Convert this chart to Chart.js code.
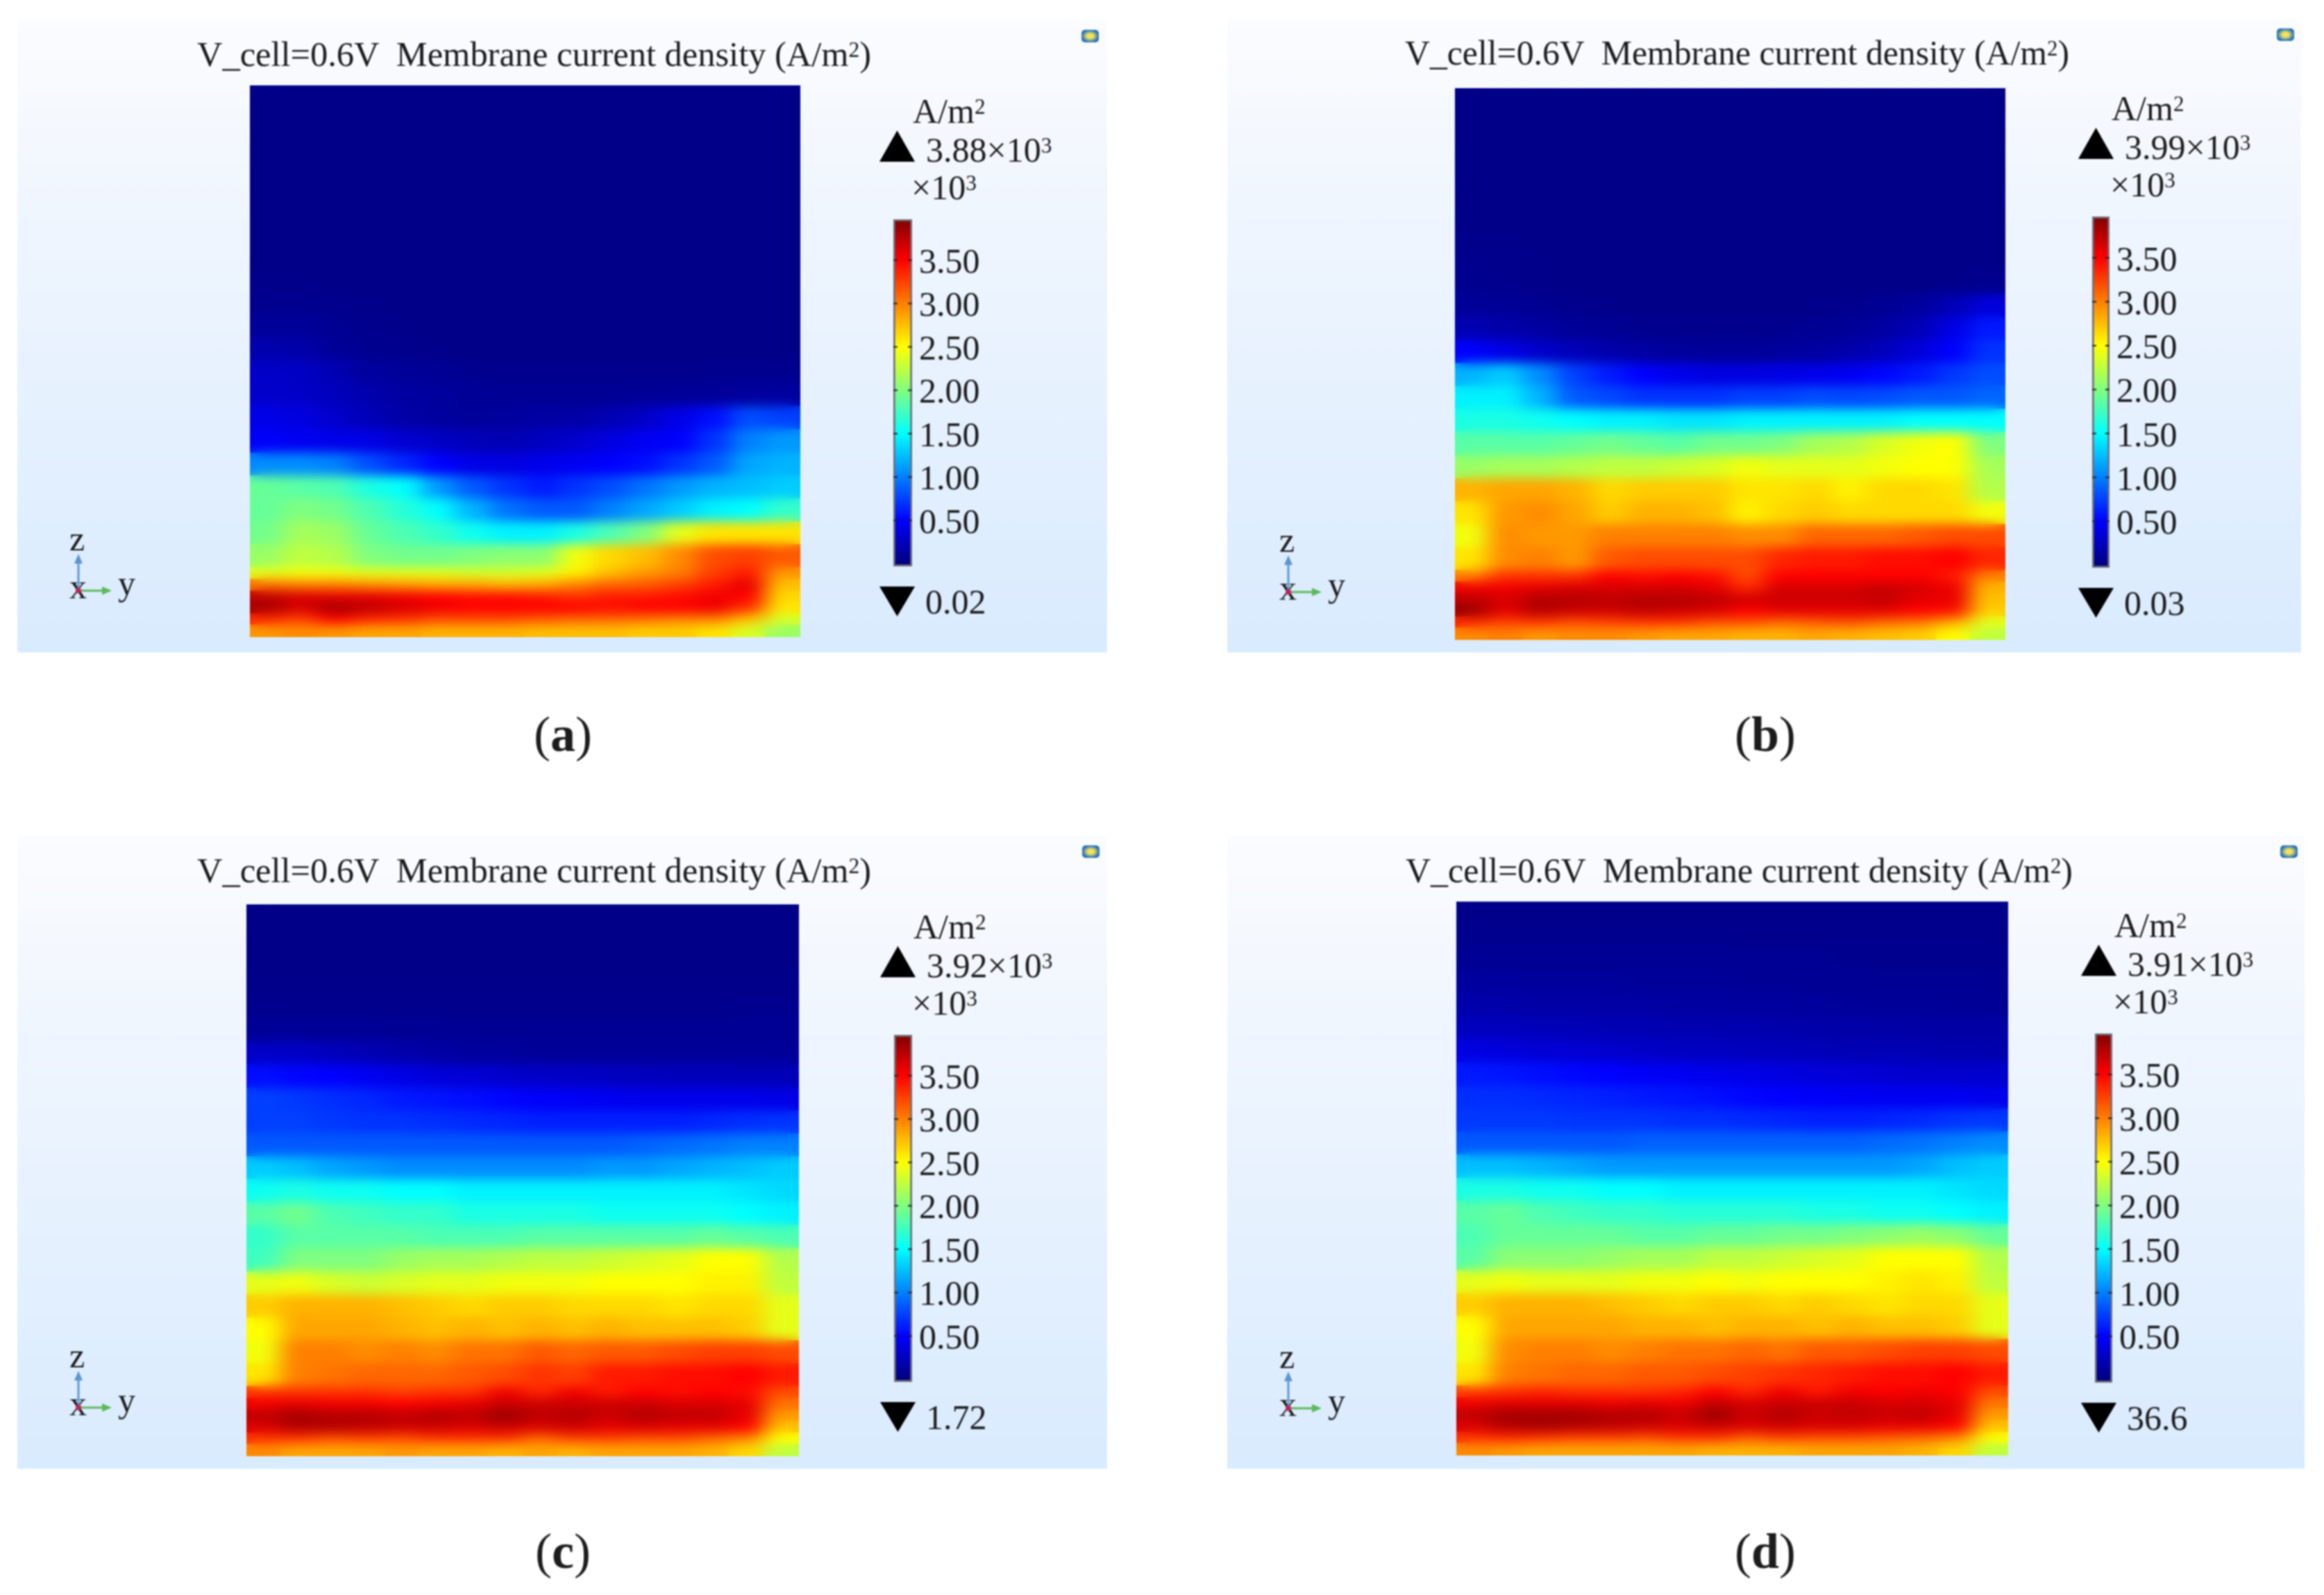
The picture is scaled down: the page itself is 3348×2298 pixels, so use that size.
<!DOCTYPE html>
<html>
<head>
<meta charset="utf-8">
<title>Membrane current density</title>
<script src="https://cdn.jsdelivr.net/npm/chart.js"></script>
<style>
    html, body { margin: 0; padding: 0; background: #fff; }
    #page { position: relative; width: 3348px; height: 2298px; overflow: hidden; background: #fff; }
    .panel { position: absolute; background: linear-gradient(#fbfcff, #f0f6fe 30%, #d9ebfe); }
    .layer { position: absolute; left: 0; top: 0; width: 3348px; height: 2298px; filter: blur(1.1px); }
    .txt { position: absolute; font-family: "Liberation Serif", serif; color: #1c1c1c; white-space: pre; line-height: 0; transform-origin: left center; }
    .txt span { position: relative; top: -0.42em; font-size: 0.62em; }
    canvas { position: absolute; }
    .tri { position: absolute; background: #000; }
    .icon { position: absolute; width: 25px; height: 18px; border-radius: 5px; background: radial-gradient(#f4e25a 25%, #1f6fc0 70%); }
</style>
</head>
<body>
<div id="page"><div class="layer" id="layer"></div></div>
<script>
// Colour scale of the plots, values in 10^3 A/m2
const jetStops = [0, 0.5, 1.5, 2.5, 3.5, 4];
const jetColors = [[0, 0, 128], [0, 0, 255], [0, 255, 255], [255, 255, 0], [255, 0, 0], [128, 0, 0]];

const colorbarTicks = [0.5, 1, 1.5, 2, 2.5, 3, 3.5];
const colorbarMin = -0.03;
const colorbarMax = 3.97;

// Height of each map row in axis units: the last rows are read at double resolution
const rowSpans = [1,1,1,1,1,1,1,1,1,1,1,1,1,1,1,1,1,1,1,1,1,.5,.5,.5,.5,.5,.5];

// Cells, top row first, left column first
const panelA = [
    [.03,.03,.03,.03,.03,.03,.03,.03,.03,.03,.03,.03,.03,.03,.03,.03],
    [.03,.03,.03,.03,.03,.03,.03,.03,.03,.03,.03,.03,.03,.03,.03,.03],
    [.03,.03,.03,.03,.03,.03,.03,.03,.03,.03,.03,.03,.03,.03,.03,.03],
    [.03,.03,.03,.03,.03,.03,.03,.03,.03,.03,.03,.03,.03,.03,.03,.03],
    [.03,.03,.03,.03,.03,.03,.03,.03,.03,.03,.03,.03,.03,.03,.03,.03],
    [.03,.03,.03,.03,.03,.03,.03,.03,.03,.03,.03,.03,.03,.03,.03,.03],
    [.03,.03,.03,.03,.03,.03,.03,.03,.03,.03,.03,.03,.03,.03,.03,.03],
    [.03,.03,.03,.03,.03,.03,.03,.03,.03,.03,.03,.03,.03,.03,.03,.03],
    [.04,.04,.03,.03,.03,.03,.03,.03,.03,.03,.03,.03,.03,.03,.03,.03],
    [.06,.06,.05,.04,.03,.03,.03,.03,.03,.03,.03,.03,.03,.03,.03,.03],
    [.10,.10,.07,.05,.04,.03,.03,.03,.03,.03,.03,.03,.03,.03,.03,.03],
    [.18,.16,.10,.06,.05,.04,.03,.03,.03,.03,.03,.03,.03,.03,.03,.03],
    [.28,.27,.20,.12,.10,.08,.06,.05,.05,.05,.05,.05,.05,.06,.06,.06],
    [.30,.28,.24,.18,.13,.11,.09,.08,.08,.08,.08,.09,.10,.10,.12,.12],
    [.40,.38,.30,.22,.15,.12,.10,.12,.14,.15,.20,.28,.40,.55,.80,.75],
    [.48,.45,.42,.40,.32,.27,.22,.20,.25,.30,.38,.45,.50,.70,1.0,1.1],
    [1.05,1.05,1.0,.80,.65,.50,.40,.38,.42,.45,.50,.55,.70,.85,1.15,1.2],
    [1.9,1.85,1.8,1.6,1.5,1.1,.85,.70,.60,.70,.80,.95,1.1,1.2,1.25,1.3],
    [1.9,2.0,1.95,1.8,1.65,1.5,1.2,.95,.85,.85,1.0,1.15,1.3,1.45,1.5,1.7],
    [1.95,2.15,2.1,1.9,1.8,1.7,1.55,1.45,1.45,1.6,1.8,2.0,2.4,2.6,2.6,2.6],
    [2.1,2.25,2.2,2.0,1.95,1.95,2.0,2.05,2.05,2.45,2.65,2.75,2.95,3.2,3.25,3.15],
    [2.4,2.45,2.45,2.4,2.4,2.4,2.35,2.35,2.4,2.55,2.75,2.9,3.0,3.25,3.4,2.9],
    [3.05,3.0,3.0,2.95,2.9,2.85,2.85,2.8,2.85,3.0,3.1,3.15,3.25,3.4,3.6,2.75],
    [3.75,3.65,3.6,3.6,3.55,3.5,3.45,3.45,3.4,3.3,3.4,3.4,3.45,3.55,3.5,2.65],
    [3.85,3.65,3.85,3.75,3.65,3.55,3.5,3.5,3.5,3.5,3.45,3.5,3.5,3.55,3.3,2.6],
    [3.35,3.25,3.5,3.35,3.3,3.2,3.2,3.2,3.15,3.1,3.1,3.05,3.0,3.0,2.75,2.35],
    [2.9,2.95,2.9,2.85,2.85,2.8,2.8,2.8,2.75,2.75,2.75,2.7,2.7,2.6,2.35,2.1]
];
const panelB = [
    [.03,.03,.03,.03,.03,.03,.03,.03,.03,.03,.03,.03,.03,.03,.03,.03],
    [.03,.03,.03,.03,.03,.03,.03,.03,.03,.03,.03,.03,.03,.03,.03,.03],
    [.03,.03,.03,.03,.03,.03,.03,.03,.03,.03,.03,.03,.03,.03,.03,.03],
    [.03,.03,.03,.03,.03,.03,.03,.03,.03,.03,.03,.03,.03,.03,.03,.03],
    [.03,.03,.03,.03,.03,.03,.03,.03,.03,.03,.03,.03,.03,.03,.03,.03],
    [.03,.03,.03,.03,.03,.03,.03,.03,.03,.03,.03,.03,.03,.03,.03,.03],
    [.04,.04,.03,.03,.03,.03,.03,.03,.03,.03,.03,.03,.03,.03,.03,.03],
    [.05,.05,.04,.03,.03,.03,.03,.03,.03,.03,.03,.03,.03,.03,.03,.03],
    [.06,.05,.04,.03,.03,.03,.03,.03,.03,.03,.03,.03,.03,.03,.04,.06],
    [.10,.09,.07,.05,.04,.03,.03,.03,.03,.03,.04,.05,.08,.12,.22,.35],
    [.20,.17,.13,.10,.08,.06,.05,.05,.05,.06,.07,.09,.14,.22,.40,.60],
    [.50,.40,.30,.22,.17,.13,.11,.10,.10,.11,.13,.17,.24,.36,.50,.70],
    [1.2,1.3,1.05,.75,.60,.50,.42,.38,.38,.40,.42,.45,.52,.60,.72,.80],
    [1.45,1.45,1.2,.85,.78,.70,.70,.70,.75,.75,.80,.78,.80,.85,.85,.90],
    [1.6,1.6,1.55,1.5,1.45,1.45,1.4,1.4,1.45,1.45,1.45,1.45,1.45,1.5,1.5,1.5],
    [1.85,1.85,1.85,1.9,1.95,1.9,1.85,1.95,1.95,2.0,2.15,2.2,2.35,2.45,2.5,2.0],
    [2.1,2.15,2.15,2.2,2.25,2.25,2.3,2.35,2.45,2.4,2.4,2.4,2.45,2.5,2.5,2.15],
    [2.8,2.85,2.85,2.8,2.65,2.7,2.7,2.7,2.6,2.6,2.65,2.55,2.65,2.65,2.6,2.2],
    [2.6,2.9,2.95,2.85,2.7,2.8,2.8,2.75,2.55,2.65,2.7,2.65,2.65,2.65,2.65,2.45],
    [2.45,2.95,2.9,2.9,3.0,3.0,3.0,3.0,2.95,2.95,3.1,3.1,3.1,3.15,3.2,3.2],
    [2.6,2.95,3.0,2.9,3.15,3.2,3.2,3.2,3.2,3.35,3.4,3.4,3.45,3.45,3.5,3.35],
    [3.0,3.3,3.3,3.3,3.5,3.45,3.5,3.45,3.2,3.5,3.5,3.5,3.5,3.5,3.4,3.0],
    [3.55,3.55,3.6,3.65,3.65,3.65,3.65,3.6,3.35,3.65,3.65,3.65,3.7,3.65,3.55,2.8],
    [3.75,3.65,3.8,3.8,3.75,3.8,3.8,3.75,3.7,3.7,3.7,3.7,3.75,3.6,3.6,2.75],
    [3.9,3.6,3.8,3.7,3.7,3.75,3.7,3.65,3.5,3.6,3.6,3.6,3.6,3.5,3.45,2.7],
    [3.35,3.25,3.3,3.2,3.25,3.3,3.3,3.2,3.2,3.1,3.15,3.2,3.1,3.05,2.85,2.4],
    [2.95,3.0,2.9,2.95,2.95,2.9,2.85,2.85,2.8,2.8,2.85,2.8,2.75,2.7,2.5,2.25]
];
const panelC = [
    [.03,.03,.03,.03,.03,.03,.03,.03,.03,.03,.03,.03,.03,.03,.03,.03],
    [.03,.03,.03,.03,.03,.03,.03,.03,.03,.03,.03,.03,.03,.03,.03,.03],
    [.03,.03,.03,.03,.03,.03,.03,.03,.03,.03,.03,.03,.03,.03,.03,.03],
    [.04,.04,.04,.04,.04,.04,.04,.04,.04,.04,.04,.04,.04,.04,.04,.04],
    [.05,.05,.05,.05,.05,.05,.05,.05,.05,.05,.05,.05,.05,.05,.06,.06],
    [.09,.09,.09,.09,.08,.08,.07,.07,.07,.07,.07,.07,.07,.07,.08,.08],
    [.28,.27,.24,.20,.17,.14,.12,.11,.10,.10,.10,.10,.10,.10,.10,.10],
    [.55,.52,.50,.45,.40,.35,.33,.30,.28,.27,.25,.24,.23,.23,.22,.22],
    [.75,.72,.68,.65,.60,.58,.55,.52,.48,.47,.45,.42,.42,.42,.42,.40],
    [.75,.75,.72,.70,.70,.68,.66,.64,.62,.62,.62,.62,.62,.65,.68,.70],
    [.85,.85,.85,.85,.85,.85,.85,.85,.85,.85,.85,.88,.92,.95,1.0,1.0],
    [1.3,1.25,1.15,1.1,1.05,1.05,1.05,1.05,1.05,1.05,1.1,1.1,1.15,1.2,1.25,1.3],
    [1.55,1.6,1.55,1.55,1.5,1.5,1.45,1.45,1.45,1.45,1.45,1.45,1.45,1.45,1.4,1.35],
    [1.85,1.95,1.8,1.75,1.7,1.7,1.6,1.6,1.6,1.6,1.55,1.55,1.55,1.55,1.5,1.45],
    [1.7,1.85,1.85,1.85,1.85,1.8,1.8,1.8,1.85,1.85,1.85,1.85,1.85,1.9,1.85,1.8],
    [1.75,2.0,2.0,2.0,2.1,2.15,2.15,2.2,2.25,2.25,2.3,2.35,2.4,2.5,2.5,2.2],
    [2.4,2.45,2.35,2.3,2.35,2.4,2.4,2.45,2.45,2.45,2.5,2.5,2.5,2.55,2.55,2.25],
    [2.7,2.8,2.8,2.8,2.75,2.7,2.65,2.7,2.7,2.65,2.65,2.65,2.6,2.65,2.65,2.4],
    [2.5,2.85,2.85,2.85,2.8,2.75,2.8,2.75,2.8,2.75,2.8,2.75,2.75,2.75,2.7,2.4],
    [2.45,3.0,3.0,2.95,3.0,2.95,3.05,3.05,3.15,3.1,3.15,3.15,3.2,3.25,3.25,3.2],
    [2.6,3.0,3.05,3.1,3.1,3.1,3.15,3.2,3.3,3.25,3.4,3.4,3.45,3.45,3.5,3.4],
    [3.3,3.3,3.3,3.3,3.25,3.3,3.3,3.55,3.35,3.55,3.4,3.5,3.45,3.5,3.45,3.2],
    [3.55,3.6,3.55,3.55,3.5,3.55,3.6,3.7,3.7,3.7,3.7,3.7,3.65,3.65,3.6,3.05],
    [3.75,3.85,3.8,3.8,3.75,3.8,3.75,3.9,3.75,3.8,3.7,3.8,3.75,3.75,3.6,2.9],
    [3.65,3.8,3.8,3.75,3.7,3.7,3.65,3.7,3.65,3.7,3.6,3.65,3.6,3.6,3.5,2.75],
    [3.3,3.3,3.2,3.25,3.2,3.3,3.3,3.3,3.1,3.25,3.25,3.2,3.2,3.1,3.0,2.5],
    [2.95,2.85,2.85,2.85,2.9,2.85,2.85,2.8,2.85,2.8,2.85,2.85,2.85,2.8,2.65,2.25]
];
const panelD = [
    [.04,.04,.04,.04,.04,.04,.04,.04,.04,.04,.04,.04,.04,.04,.04,.04],
    [.06,.06,.06,.06,.06,.06,.06,.06,.05,.05,.05,.05,.05,.05,.05,.05],
    [.08,.08,.08,.08,.08,.08,.08,.08,.07,.07,.07,.06,.06,.06,.06,.06],
    [.12,.12,.11,.11,.11,.10,.10,.10,.09,.09,.08,.08,.07,.07,.07,.07],
    [.17,.16,.15,.15,.14,.14,.13,.13,.12,.12,.11,.10,.10,.10,.09,.09],
    [.24,.24,.22,.22,.20,.20,.19,.18,.18,.17,.16,.16,.15,.14,.14,.14],
    [.38,.36,.33,.32,.30,.28,.26,.25,.24,.23,.22,.20,.20,.20,.18,.18],
    [.60,.58,.55,.52,.50,.47,.45,.42,.40,.38,.36,.34,.32,.30,.30,.30],
    [.68,.68,.66,.64,.62,.60,.58,.55,.52,.50,.48,.46,.45,.45,.45,.42],
    [.72,.72,.72,.70,.70,.70,.68,.68,.66,.64,.62,.62,.64,.66,.70,.72],
    [.85,.85,.85,.85,.85,.88,.88,.88,.88,.88,.88,.88,.92,.95,1.0,1.05],
    [1.25,1.25,1.2,1.15,1.1,1.1,1.1,1.1,1.1,1.1,1.1,1.1,1.1,1.15,1.25,1.3],
    [1.6,1.6,1.55,1.55,1.5,1.5,1.45,1.45,1.45,1.45,1.45,1.45,1.45,1.45,1.4,1.35],
    [1.85,1.9,1.8,1.75,1.7,1.7,1.65,1.65,1.65,1.65,1.6,1.6,1.55,1.55,1.5,1.45],
    [1.8,1.9,1.9,1.9,1.9,1.85,1.85,1.9,1.9,1.95,1.95,2.0,2.05,2.1,2.05,1.9],
    [1.85,2.05,2.05,2.05,2.1,2.15,2.15,2.25,2.25,2.3,2.35,2.4,2.5,2.5,2.5,2.2],
    [2.4,2.45,2.4,2.4,2.4,2.45,2.45,2.5,2.45,2.5,2.5,2.5,2.55,2.6,2.55,2.25],
    [2.7,2.8,2.8,2.8,2.75,2.7,2.65,2.7,2.7,2.65,2.7,2.65,2.6,2.65,2.65,2.4],
    [2.5,2.85,2.85,2.85,2.85,2.8,2.8,2.75,2.8,2.8,2.75,2.8,2.75,2.75,2.7,2.4],
    [2.45,2.95,3.0,3.0,2.95,3.0,3.05,3.05,3.1,3.05,3.15,3.15,3.2,3.25,3.25,3.2],
    [2.6,3.0,3.05,3.1,3.1,3.15,3.15,3.2,3.25,3.3,3.35,3.4,3.45,3.45,3.5,3.4],
    [3.25,3.3,3.35,3.3,3.3,3.3,3.35,3.5,3.35,3.55,3.4,3.55,3.5,3.55,3.5,3.2],
    [3.55,3.6,3.6,3.6,3.55,3.6,3.55,3.7,3.65,3.7,3.7,3.7,3.65,3.65,3.6,3.05],
    [3.75,3.85,3.85,3.85,3.8,3.8,3.7,3.9,3.7,3.8,3.7,3.75,3.7,3.75,3.6,2.9],
    [3.65,3.8,3.85,3.8,3.75,3.7,3.65,3.7,3.65,3.7,3.65,3.65,3.6,3.6,3.5,2.75],
    [3.3,3.35,3.3,3.25,3.25,3.2,3.3,3.3,3.15,3.25,3.2,3.2,3.15,3.1,3.0,2.5],
    [2.95,2.9,2.85,2.85,2.85,2.85,2.85,2.8,2.8,2.8,2.85,2.85,2.85,2.8,2.65,2.25]
];

const titleText = 'V_cell=0.6V  Membrane current density (A/m<span>2</span>)';
const unitText = 'A/m<span>2</span>';
const multText = '×10<span>3</span>';
const maxLabels = ['3.88', '3.99', '3.92', '3.91'];
const minLabels = ['0.02', '0.03', '1.72', '36.6'];
const captionLetters = ['a', 'b', 'c', 'd'];

// Page layout of the four panels
const panels = [
    { values: panelA, box: [25, 29, 1570, 911], plot: [360, 123, 793, 795], bar: [1287, 316, 27, 500], title: [284, 95, 971], axisX: 113, axisY: 851, icon: [1558, 43], caption: [811, 1082] },
    { values: panelB, box: [1768, 28, 1547, 912], plot: [2096, 127, 793, 795], bar: [3014, 312, 25, 506], title: [2024, 93, 957], axisX: 1856, axisY: 853, icon: [3280, 41], caption: [2543, 1082] },
    { values: panelC, box: [25, 1204, 1570, 912], plot: [355, 1303, 796, 795], bar: [1288, 1491, 26, 500], title: [284, 1271, 971], axisX: 113, axisY: 2028, icon: [1559, 1218], caption: [811, 2259] },
    { values: panelD, box: [1768, 1204, 1552, 912], plot: [2098, 1299, 795, 798], bar: [3018, 1489, 25, 503], title: [2025, 1271, 961], axisX: 1856, axisY: 2029, icon: [3285, 1218], caption: [2543, 2259] }
];

const layer = document.getElementById('layer');

function jetColor(v) {
    let i = 0;
    while (i < jetStops.length - 2 && v > jetStops[i + 1]) i++;
    const t = Math.min(1, Math.max(0, (v - jetStops[i]) / (jetStops[i + 1] - jetStops[i])));
    const c = jetColors[i].map((a, k) => Math.round(a + (jetColors[i + 1][k] - a) * t));
    return `rgb(${c[0]},${c[1]},${c[2]})`;
}

// Put a text on the page with its baseline at y
function addText(html, x, baseline, size, extra) {
    const el = document.createElement('div');
    el.className = 'txt';
    el.innerHTML = html;
    el.style.left = x + 'px';
    el.style.top = (baseline - 0.3375 * size) + 'px';
    el.style.fontSize = size + 'px';
    if (extra) Object.assign(el.style, extra);
    layer.appendChild(el);
    return el;
}

function addTriangle(x, y, w, h, up) {
    const el = document.createElement('div');
    el.className = 'tri';
    el.style.cssText += `left:${x}px;top:${y}px;width:${w}px;height:${h}px;` +
        `clip-path:polygon(${up ? '50% 0,100% 100%,0 100%' : '0 0,100% 0,50% 100%'});`;
    layer.appendChild(el);
}

// Coordinate triad at the bottom left of each panel
function addTriad(x, y) {
    const svg = document.createElementNS('http://www.w3.org/2000/svg', 'svg');
    svg.setAttribute('width', 80);
    svg.setAttribute('height', 70);
    svg.style.cssText = `position:absolute;left:${x - 10}px;top:${y - 55}px;`;
    svg.innerHTML = '<line x1="10" y1="55" x2="10" y2="12" stroke="#5b96d0" stroke-width="3"/>' +
        '<polygon points="10,2 4,16 16,16" fill="#5b96d0"/>' +
        '<line x1="10" y1="55" x2="46" y2="55" stroke="#5cb85c" stroke-width="3"/>' +
        '<polygon points="58,55 44,49 44,61" fill="#5cb85c"/>' +
        '<circle cx="10" cy="55" r="4" fill="#c0245a"/>';
    addText('z', x - 13, y - 58, 50);
    addText('x', x - 13, y + 11, 50);
    layer.appendChild(svg);
    addText('y', x + 57, y + 6, 50);
}

// Blur the drawn cells, more across than along, so the map reads as a continuous field
const softenPlugin = {
    id: 'soften',
    afterDatasetsDraw(chart) {
        const { ctx, canvas } = chart;
        const off = document.createElement('canvas');
        off.width = Math.ceil(canvas.width / 2);
        off.height = canvas.height;
        const offCtx = off.getContext('2d');
        offCtx.filter = 'blur(8px)';
        offCtx.drawImage(canvas, 0, 0, off.width, off.height);
        ctx.save();
        ctx.imageSmoothingEnabled = true;
        ctx.drawImage(off, 0, 0, canvas.width, canvas.height);
        ctx.restore();
    }
};

function drawHeatmap(panel) {
    const [left, top, width, height] = panel.plot;
    const cols = panel.values[0].length;
    const rowTotal = rowSpans.reduce((a, b) => a + b, 0);
    const canvas = document.createElement('canvas');
    canvas.style.left = left + 'px';
    canvas.style.top = top + 'px';
    canvas.width = width;
    canvas.height = height;
    layer.appendChild(canvas);

    // One tile per colour and row height, a little larger than a cell so no seams show
    const tileW = Math.ceil(width / cols) + 2;
    const tiles = {};
    function tileFor(v, span) {
        const key = v + '_' + span;
        if (!tiles[key]) {
            const tile = document.createElement('canvas');
            tile.width = tileW;
            tile.height = Math.ceil(span * height / rowTotal) + 2;
            const c = tile.getContext('2d');
            c.fillStyle = jetColor(v);
            c.fillRect(0, 0, tile.width, tile.height);
            tiles[key] = tile;
        }
        return tiles[key];
    }

    const points = [];
    let rowTop = 0;
    panel.values.forEach((row, r) => {
        const span = rowSpans[r];
        row.forEach((v, c) => points.push({ x: c + 0.5, y: rowTop + span / 2, v: v, span: span }));
        rowTop += span;
    });

    new Chart(canvas, {
        type: 'scatter',
        data: {
            datasets: [{
                data: points,
                pointRadius: 1,
                pointHoverRadius: 0,
                pointBorderWidth: 0,
                pointStyle: ctx => tileFor(ctx.raw ? ctx.raw.v : 0, ctx.raw ? ctx.raw.span : 1),
                clip: 0
            }]
        },
        options: {
            responsive: false,
            animation: false,
            devicePixelRatio: 1,
            layout: { padding: 0, autoPadding: false },
            plugins: { legend: { display: false }, tooltip: { enabled: false } },
            scales: {
                x: { type: 'linear', min: 0, max: cols, display: false },
                y: { type: 'linear', min: 0, max: rowTotal, reverse: true, display: false }
            }
        },
        plugins: [softenPlugin]
    });
}

// Short marks on both sides of the colour bar
const barTicksPlugin = {
    id: 'barTicks',
    afterDatasetsDraw(chart) {
        const { ctx, chartArea, scales } = chart;
        ctx.save();
        ctx.strokeStyle = '#222';
        ctx.lineWidth = 2;
        colorbarTicks.forEach(t => {
            const y = scales.y.getPixelForValue(t);
            ctx.beginPath();
            ctx.moveTo(chartArea.left, y);
            ctx.lineTo(chartArea.left + 6, y);
            ctx.moveTo(chartArea.right - 6, y);
            ctx.lineTo(chartArea.right, y);
            ctx.stroke();
        });
        ctx.restore();
    }
};

function drawColorbar(panel) {
    const [left, top, width, height] = panel.bar;
    const labelRoom = 130;
    const canvas = document.createElement('canvas');
    canvas.style.left = left + 'px';
    canvas.style.top = top + 'px';
    canvas.width = width + labelRoom;
    canvas.height = height;
    layer.appendChild(canvas);

    new Chart(canvas, {
        type: 'bar',
        data: {
            labels: ['colorbar'],
            datasets: [{
                data: [[colorbarMin, colorbarMax]],
                barPercentage: 1,
                categoryPercentage: 1,
                borderSkipped: false,
                borderWidth: 3,
                borderColor: '#6e6e78',
                backgroundColor(ctx) {
                    const { chartArea } = ctx.chart;
                    if (!chartArea) return '#000080';
                    const g = ctx.chart.ctx.createLinearGradient(0, chartArea.bottom, 0, chartArea.top);
                    jetStops.forEach((s, i) => {
                        const off = (s - colorbarMin) / (colorbarMax - colorbarMin);
                        const c = jetColors[i];
                        g.addColorStop(Math.min(1, off), `rgb(${c[0]},${c[1]},${c[2]})`);
                    });
                    return g;
                }
            }]
        },
        options: {
            responsive: false,
            animation: false,
            devicePixelRatio: 1,
            layout: { padding: 0 },
            plugins: { legend: { display: false }, tooltip: { enabled: false } },
            scales: {
                x: { display: false },
                y: {
                    position: 'right',
                    min: colorbarMin,
                    max: colorbarMax,
                    border: { display: false },
                    grid: { display: false, drawTicks: false },
                    afterBuildTicks(scale) {
                        scale.ticks = colorbarTicks.map(v => ({ value: v }));
                    },
                    afterFit(scale) {
                        scale.width = labelRoom;
                        scale.paddingTop = 0;
                        scale.paddingBottom = 0;
                    },
                    ticks: {
                        padding: 10,
                        labelOffset: 5,
                        color: '#1c1c1c',
                        font: { family: '"Liberation Serif"', size: 50 },
                        callback: v => v.toFixed(2)
                    }
                }
            }
        },
        plugins: [barTicksPlugin]
    });
}

panels.forEach((panel, i) => {
    const [bx, by, bw, bh] = panel.box;
    const bg = document.createElement('div');
    bg.className = 'panel';
    bg.style.cssText += `left:${bx}px;top:${by}px;width:${bw}px;height:${bh}px;`;
    layer.appendChild(bg);

    const icon = document.createElement('div');
    icon.className = 'icon';
    icon.style.left = panel.icon[0] + 'px';
    icon.style.top = panel.icon[1] + 'px';
    layer.appendChild(icon);

    drawHeatmap(panel);
    drawColorbar(panel);

    // Title, stretched to the width it has in the picture
    const title = addText(titleText, panel.title[0], panel.title[1], 50);
    title.style.transform = `scaleX(${panel.title[2] / title.getBoundingClientRect().width})`;

    const barX = panel.bar[0];
    const barY = panel.bar[1];
    const barB = barY + panel.bar[3];
    addText(unitText, barX + 28, barY - 139, 50);
    addTriangle(barX - 20, barY - 128, 51, 45, true);
    addText(maxLabels[i] + multText, barX + 47, barY - 83, 50);
    addText(multText, barX + 26, barY - 29, 50);
    addTriangle(barX - 20, barB + 29, 51, 43, false);
    addText(minLabels[i], barX + 46, barB + 68, 50);

    addTriad(panel.axisX, panel.axisY);

    // Panel caption under the panel
    const caption = addText(`(<b>${captionLetters[i]}</b>)`, panel.caption[0], panel.caption[1], 72);
    caption.style.left = (panel.caption[0] - caption.getBoundingClientRect().width / 2) + 'px';
});
</script>
</body>
</html>
